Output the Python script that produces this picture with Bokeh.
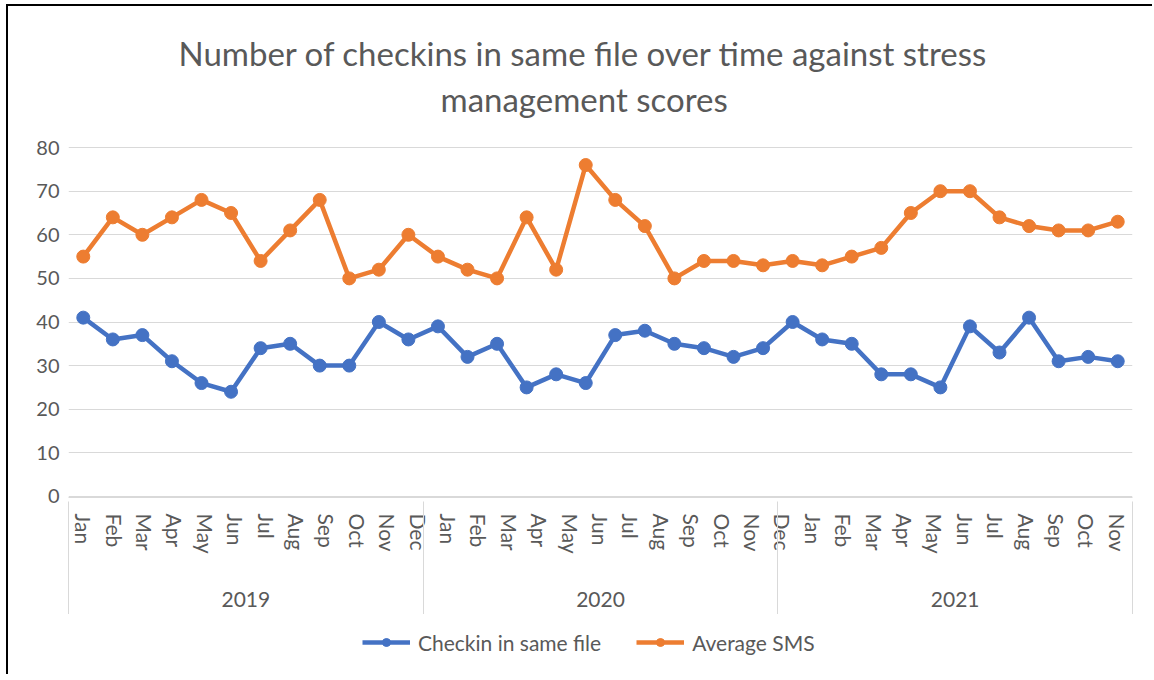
from bokeh.plotting import figure
from bokeh.layouts import column
from bokeh.models import Range1d, LinearAxis, FixedTicker, Title, Legend, LegendItem, ColumnDataSource
from bokeh.embed import file_html
from bokeh.resources import INLINE

# ---------------- data ----------------
months = ["Jan", "Feb", "Mar", "Apr", "May", "Jun", "Jul", "Aug", "Sep", "Oct", "Nov", "Dec"]
years = ["2019", "2020", "2021"]
month_labels = months + months[:11] + ["Dec"] + months[:11]

checkins = [41, 36, 37, 31, 26, 24, 34, 35, 30, 30, 40, 36,
            39, 32, 35, 25, 28, 26, 37, 38, 35, 34, 32, 34,
            40, 36, 35, 28, 28, 25, 39, 33, 41, 31, 32, 31]
avg_sms = [55, 64, 60, 64, 68, 65, 54, 61, 68, 50, 52, 60,
           55, 52, 50, 64, 52, 76, 68, 62, 50, 54, 54, 53,
           54, 53, 55, 57, 65, 70, 70, 64, 62, 61, 61, 63]
y_ticks = [0, 10, 20, 30, 40, 50, 60, 70, 80]

title_line1 = "Number of checkins in same file over time against stress"
title_line2 = "management scores"
series_names = ["Checkin in same file", "Average SMS"]

# ---------------- styling ----------------
FONT = "Lato"
GREY = "#595959"
GRID = "#d9d9d9"
BLUE = "#4472C4"
ORANGE = "#ED7D31"

n = len(checkins)
x = [i + 0.5 for i in range(n)]
src = ColumnDataSource(dict(x=x, checkins=checkins, sms=avg_sms))

p = figure(width=1144, height=608,
           x_range=Range1d(0, n), y_range=Range1d(-0.25, 80.25),
           output_backend="svg", toolbar_location=None,
           x_axis_location=None, y_axis_location="left",
           min_border_left=60, min_border_right=20,
           min_border_top=140, min_border_bottom=117)
p.outline_line_color = None
p.background_fill_color = "white"
p.border_fill_color = "white"

# titles
t2 = Title(text=title_line2, align="left", offset=372,
           text_font=FONT, text_font_size="33px", text_font_style="normal",
           text_color=GREY, standoff=55)
t1 = Title(text=title_line1, align="left", offset=110,
           text_font=FONT, text_font_size="33px", text_font_style="normal",
           text_color=GREY, standoff=-46)
p.add_layout(t2, "above")
p.add_layout(t1, "above")

# y axis & grid
yax = p.yaxis[0]
yax.ticker = FixedTicker(ticks=y_ticks)
yax.axis_line_color = None
yax.major_tick_line_color = None
yax.minor_tick_line_color = None
yax.major_label_text_font = FONT
yax.major_label_text_font_size = "20px"
yax.major_label_text_color = GREY
yax.major_label_standoff = 3
p.ygrid.ticker = FixedTicker(ticks=y_ticks)
p.ygrid.grid_line_color = GRID
p.ygrid.grid_line_width = 1
p.xgrid.grid_line_color = None

# month axis: labels spread over their own range
nl = len(month_labels)
p.extra_x_ranges = {"lab": Range1d(-0.5, nl - 0.5)}
month_axis = LinearAxis(
    x_range_name="lab",
    ticker=FixedTicker(ticks=list(range(nl))),
    major_label_overrides={i: lab for i, lab in enumerate(month_labels)},
    major_label_orientation="vertical",
    major_label_text_font=FONT, major_label_text_font_size="21px",
    major_label_text_color=GREY, major_label_standoff=16,
    major_tick_line_color=None, major_tick_out=0, major_tick_in=0,
    minor_tick_line_color=None,
    axis_line_color=GRID, axis_line_width=1,
)
p.add_layout(month_axis, "below")

# year axis; group separators drawn as its minor ticks (in and out)
year_axis = LinearAxis(
    ticker=FixedTicker(ticks=[6, 18, 30], minor_ticks=[0, 12, 24, 36]),
    major_label_overrides={6: years[0], 18: years[1], 30: years[2]},
    major_label_text_font=FONT, major_label_text_font_size="21px",
    major_label_text_color=GREY, major_label_standoff=-24,
    major_tick_line_color=None, major_tick_out=0, major_tick_in=0,
    minor_tick_line_color=GRID, minor_tick_in=55, minor_tick_out=59,
    axis_line_color=None,
)
p.add_layout(year_axis, "below")

# series
l1 = p.line("x", "checkins", source=src, line_color=BLUE, line_width=4.5)
s1 = p.scatter("x", "checkins", source=src, size=13, fill_color=BLUE, line_color=BLUE)
l2 = p.line("x", "sms", source=src, line_color=ORANGE, line_width=4.5)
s2 = p.scatter("x", "sms", source=src, size=13, fill_color=ORANGE, line_color=ORANGE)

# legend strip below the chart: same series, y range kept clear of the data
p2 = figure(width=1144, height=60, x_range=Range1d(0, n), y_range=Range1d(1000, 1001),
            output_backend="svg", toolbar_location=None,
            x_axis_location=None, y_axis_location=None,
            min_border_left=0, min_border_right=0, min_border_top=0, min_border_bottom=0)
p2.outline_line_color = None
p2.grid.visible = False
g1 = p2.line("x", "checkins", source=src, line_color=BLUE, line_width=4.5)
m1 = p2.scatter("x", "checkins", source=src, size=13, fill_color=BLUE, line_color=BLUE)
g2 = p2.line("x", "sms", source=src, line_color=ORANGE, line_width=4.5)
m2 = p2.scatter("x", "sms", source=src, size=13, fill_color=ORANGE, line_color=ORANGE)
legend = Legend(items=[LegendItem(label=series_names[0], renderers=[g1, m1]),
                       LegendItem(label=series_names[1], renderers=[g2, m2])],
                orientation="horizontal", location=(294, 4),
                label_text_font=FONT, label_text_font_size="21px",
                label_text_color=GREY,
                glyph_width=48, glyph_height=20, label_height=56,
                label_standoff=8, spacing=35,
                border_line_color=None, background_fill_alpha=0, padding=0, margin=0)
p2.add_layout(legend, "center")

layout = column(p, p2, spacing=0)
layout.margin = (4, 0, 0, 6)
layout.styles = {"border-left": "2px solid #000", "border-top": "2px solid #000"}

open("out.html", "w").write(file_html(layout, INLINE))
